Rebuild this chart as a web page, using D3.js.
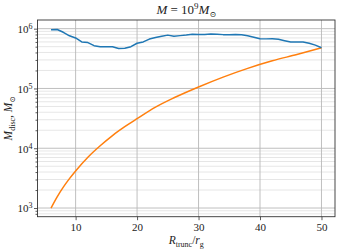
<!DOCTYPE html>
<html><head><meta charset="utf-8">
<script src="https://cdn.jsdelivr.net/npm/d3@7"></script>
<style>body{margin:0;background:#fff}svg{display:block}text{font-family:"Liberation Serif","DejaVu Serif",serif;fill:#222}</style>
</head><body>
<script>
// Data
const discR = [6,7,8,9,10,11,12,13,14,15,16,17,18,19,20,21,22,23,24,25,26,27,28,29,30,31,32,33,34,35,36,37,38,39,40,41,42,43,44,45,46,47,48,49,50];
const discMass = [0.96e6,0.97e6,0.87e6,0.76e6,0.70e6,0.60e6,0.585e6,0.52e6,0.50e6,0.50e6,0.50e6,0.465e6,0.47e6,0.50e6,0.57e6,0.60e6,0.67e6,0.71e6,0.745e6,0.78e6,0.745e6,0.765e6,0.785e6,0.81e6,0.80e6,0.80e6,0.815e6,0.81e6,0.795e6,0.79e6,0.80e6,0.79e6,0.76e6,0.72e6,0.68e6,0.675e6,0.68e6,0.665e6,0.63e6,0.60e6,0.60e6,0.60e6,0.57e6,0.53e6,0.48e6];
const refR = [6,7,8,9,10,12,14,16,18,20,23,26,30,34,38,42,46,50];
const refMass = [1000,1540,2240,3100,4170,7080,11000,16300,22900,31200,48700,69800,106000,155000,217000,290000,370000,480000];
const xTicks = [10,20,30,40,50];
const yTicks = [1e3,1e4,1e5,1e6];

const FONT="Liberation Serif, DejaVu Serif, serif";
const W=341,H=252, L=37.5, R=335, T=20, B=216.7;
const svg=d3.select("body").append("svg").attr("width",W).attr("height",H);
const x=d3.scaleLinear().domain([3.8,52.2]).range([L,R]);
const y=d3.scaleLog().domain([Math.pow(10,2.855),Math.pow(10,6.145)]).range([B,T]);

// minor grid
const minors=[];
for(let e=2;e<=6;e++){for(let k=2;k<=9;k++){const v=k*Math.pow(10,e);if(v>y.domain()[0]&&v<y.domain()[1])minors.push(v);}}
svg.append("g").selectAll("line").data(minors).join("line")
 .attr("x1",L).attr("x2",R).attr("y1",d=>y(d)).attr("y2",d=>y(d))
 .attr("stroke","#e0e0e0").attr("stroke-width",0.8);
// major grid
svg.append("g").selectAll("line").data(yTicks).join("line")
 .attr("x1",L).attr("x2",R).attr("y1",d=>y(d)).attr("y2",d=>y(d))
 .attr("stroke","#b8b8b8").attr("stroke-width",0.9);
svg.append("g").selectAll("line").data(xTicks).join("line")
 .attr("x1",d=>x(d)).attr("x2",d=>x(d)).attr("y1",T).attr("y2",B)
 .attr("stroke","#b8b8b8").attr("stroke-width",0.9);

// axes
const xa=svg.append("g").attr("transform",`translate(0,${B})`)
 .call(d3.axisBottom(x).tickValues(xTicks).tickSize(3.5).tickPadding(3).tickFormat(d3.format("d")));
const ya=svg.append("g").attr("transform",`translate(${L},0)`)
 .call(d3.axisLeft(y).tickValues(yTicks).tickSize(3.5).tickPadding(3).tickFormat(""));
svg.append("g").attr("transform",`translate(${L},0)`)
 .call(d3.axisLeft(y).tickValues(minors).tickSize(2).tickFormat(""))
 .call(g=>g.select(".domain").remove());
[xa,ya].forEach(g=>{g.select(".domain").remove();
 g.selectAll("text").attr("font-family",FONT).attr("font-size",11).attr("fill","#333");});
svg.selectAll("g .tick line").attr("stroke","#333").attr("stroke-width",0.8);

// y tick labels with superscripts
ya.selectAll(".tick").each(function(d){
 const t=d3.select(this).append("text").attr("x",-5).attr("dy","0.35em").attr("text-anchor","end")
  .attr("font-family",FONT).attr("font-size",11).attr("fill","#333");
 t.append("tspan").text("10");
 t.append("tspan").attr("font-size",8).attr("dy","-0.5em").text(Math.round(Math.log10(d)));
});

// lines
const line=d3.line().x(d=>x(d[0])).y(d=>y(d[1]));
svg.append("path").datum(refR.map((r,i)=>[r,refMass[i]])).attr("d",line.curve(d3.curveMonotoneX))
 .attr("fill","none").attr("stroke","#ff7f0e").attr("stroke-width",1.5);
svg.append("path").datum(discR.map((r,i)=>[r,discMass[i]])).attr("d",d3.line().x(d=>x(d[0])).y(d=>y(d[1])))
 .attr("fill","none").attr("stroke","#1f77b4").attr("stroke-width",1.5).attr("stroke-linejoin","round");

// frame
svg.append("rect").attr("x",L).attr("y",T).attr("width",R-L).attr("height",B-T)
 .attr("fill","none").attr("stroke","#333").attr("stroke-width",0.9);

// title
const tt=svg.append("text").attr("x",(L+R)/2).attr("y",14).attr("text-anchor","middle").attr("font-size",13);
tt.append("tspan").attr("font-style","italic").text("M");
tt.append("tspan").text(" = 10");
tt.append("tspan").attr("font-size",9).attr("dy",-5).text("9");
tt.append("tspan").attr("font-style","italic").attr("dy",5).text("M");
tt.append("tspan").attr("font-size",8).attr("dy",3).text("⊙");

// x label
const xl=svg.append("text").attr("x",(L+R)/2).attr("y",244).attr("text-anchor","middle").attr("font-size",11.5);
xl.append("tspan").attr("font-style","italic").text("R");
xl.append("tspan").attr("font-size",8).attr("dy",2.5).text("trunc");
xl.append("tspan").attr("dy",-2.5).text("/");
xl.append("tspan").attr("font-style","italic").text("r");
xl.append("tspan").attr("font-size",8).attr("dy",2.5).text("g");

// y label
const yl=svg.append("text").attr("transform",`translate(12,${(T+B)/2}) rotate(-90)`).attr("text-anchor","middle").attr("font-size",11.5);
yl.append("tspan").attr("font-style","italic").text("M");
yl.append("tspan").attr("font-size",8).attr("dy",2.5).text("disc");
yl.append("tspan").attr("dy",-2.5).text(", ");
yl.append("tspan").attr("font-style","italic").text("M");
yl.append("tspan").attr("font-size",7.5).attr("dy",2.5).text("⊙");
</script>
</body></html>
